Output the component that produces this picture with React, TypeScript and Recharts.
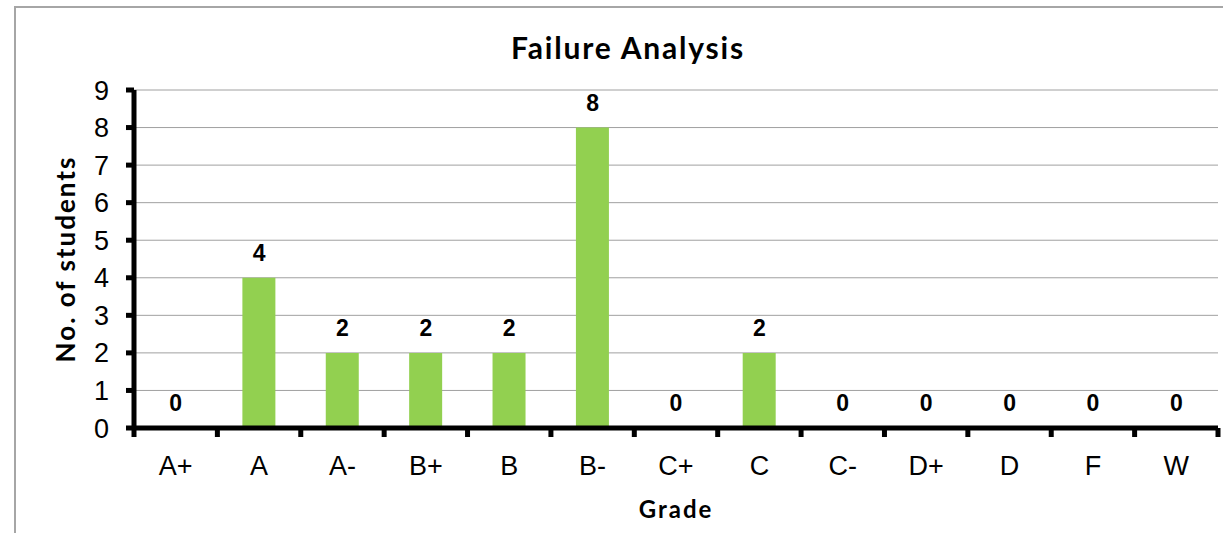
import { ComposedChart, Bar, Line, XAxis, YAxis, CartesianGrid, LabelList } from 'recharts';

const grades = ['A+', 'A', 'A-', 'B+', 'B', 'B-', 'C+', 'C', 'C-', 'D+', 'D', 'F', 'W'];
const students = [0, 4, 2, 2, 2, 8, 0, 2, 0, 0, 0, 0, 0];
const yTicks = [0, 1, 2, 3, 4, 5, 6, 7, 8, 9];

const data = grades.map((grade, i) => ({ grade, students: students[i] }));

const W = 1223;
const H = 533;
const MARGIN = { top: 90, right: 5, bottom: 10, left: 14 };
const Y_AXIS_W = 120;
const PLOT_W = W - MARGIN.left - MARGIN.right - Y_AXIS_W;
const BAND = PLOT_W / grades.length;

const AXIS_FONT = 'Liberation Sans, Arial, sans-serif';
const TITLE_FONT = 'Lato, sans-serif';

// category label plus the small tick marks that sit on the band edges
const GradeTick = (props: any) => {
  const { x, y, payload, index } = props;
  const left = x - BAND / 2;
  const right = x + BAND / 2;
  return (
    <g>
      <line x1={left} x2={left} y1={y} y2={y + 9} stroke="#000" strokeWidth={5} />
      {index === grades.length - 1 && (
        <line x1={right} x2={right} y1={y} y2={y + 9} stroke="#000" strokeWidth={5} />
      )}
      <text x={x} y={y + 47} textAnchor="middle" fill="#000" fontSize={27} fontFamily={AXIS_FONT}>
        {payload.value}
      </text>
    </g>
  );
};

// value labels hang off an invisible line so the zero bars get one too
const ValueLabel = (props: any) => {
  const { x, y, value } = props;
  return (
    <text
      x={x}
      y={Number(y) - 17}
      textAnchor="middle"
      fill="#000"
      fontSize={23}
      fontWeight={700}
      fontFamily={AXIS_FONT}
    >
      {value}
    </text>
  );
};

const FailureAnalysis = () => {
  return (
    <div
      style={{
        position: 'absolute',
        left: 0,
        top: 0,
        width: W,
        height: H,
        background: '#fff',
        overflow: 'hidden',
      }}
    >
      <div
        style={{
          position: 'absolute',
          left: 14,
          top: 6,
          width: 1300,
          height: 600,
          borderLeft: '2px solid #a6a6a6',
          borderTop: '2px solid #a6a6a6',
        }}
      />
      <div
        style={{
          position: 'absolute',
          left: 428,
          width: 400,
          top: 29,
          textAlign: 'center',
          fontFamily: TITLE_FONT,
          fontWeight: 700,
          fontSize: 30,
          letterSpacing: 1.8,
          lineHeight: '36px',
          color: '#000',
        }}
      >
        Failure Analysis
      </div>
      <div style={{ position: 'absolute', left: 0, top: 0 }}>
        <ComposedChart width={W} height={H} data={data} margin={MARGIN} barSize={33}>
          <CartesianGrid horizontal vertical={false} stroke="#a0a0a0" strokeWidth={1} />
          <XAxis
            dataKey="grade"
            height={95}
            axisLine={{ stroke: '#000', strokeWidth: 5 }}
            tickLine={false}
            tickSize={0}
            tickMargin={0}
            interval={0}
            tick={GradeTick}
            label={{
              value: 'Grade',
              position: 'insideBottom',
              offset: 5,
              fill: '#000',
              fontSize: 24,
              fontWeight: 700,
              letterSpacing: 2,
              fontFamily: TITLE_FONT,
            }}
          />
          <YAxis
            width={Y_AXIS_W}
            domain={[0, 9]}
            ticks={yTicks}
            interval={0}
            axisLine={{ stroke: '#000', strokeWidth: 5 }}
            tickLine={{ stroke: '#000', strokeWidth: 5 }}
            tickSize={8}
            tickMargin={17}
            tick={{ fill: '#000', fontSize: 27, fontFamily: AXIS_FONT }}
            label={{
              value: 'No. of students',
              angle: -90,
              position: 'insideLeft',
              offset: 52,
              fill: '#000',
              fontSize: 26,
              fontWeight: 700,
              letterSpacing: 2,
              fontFamily: TITLE_FONT,
              style: { textAnchor: 'middle' },
            }}
          />
          <Bar dataKey="students" fill="#92d050" isAnimationActive={false} />
          <Line
            dataKey="students"
            stroke="none"
            dot={false}
            activeDot={false}
            isAnimationActive={false}
          >
            <LabelList dataKey="students" content={ValueLabel} />
          </Line>
        </ComposedChart>
      </div>
    </div>
  );
};

export default function App() {
  return <FailureAnalysis />;
}
